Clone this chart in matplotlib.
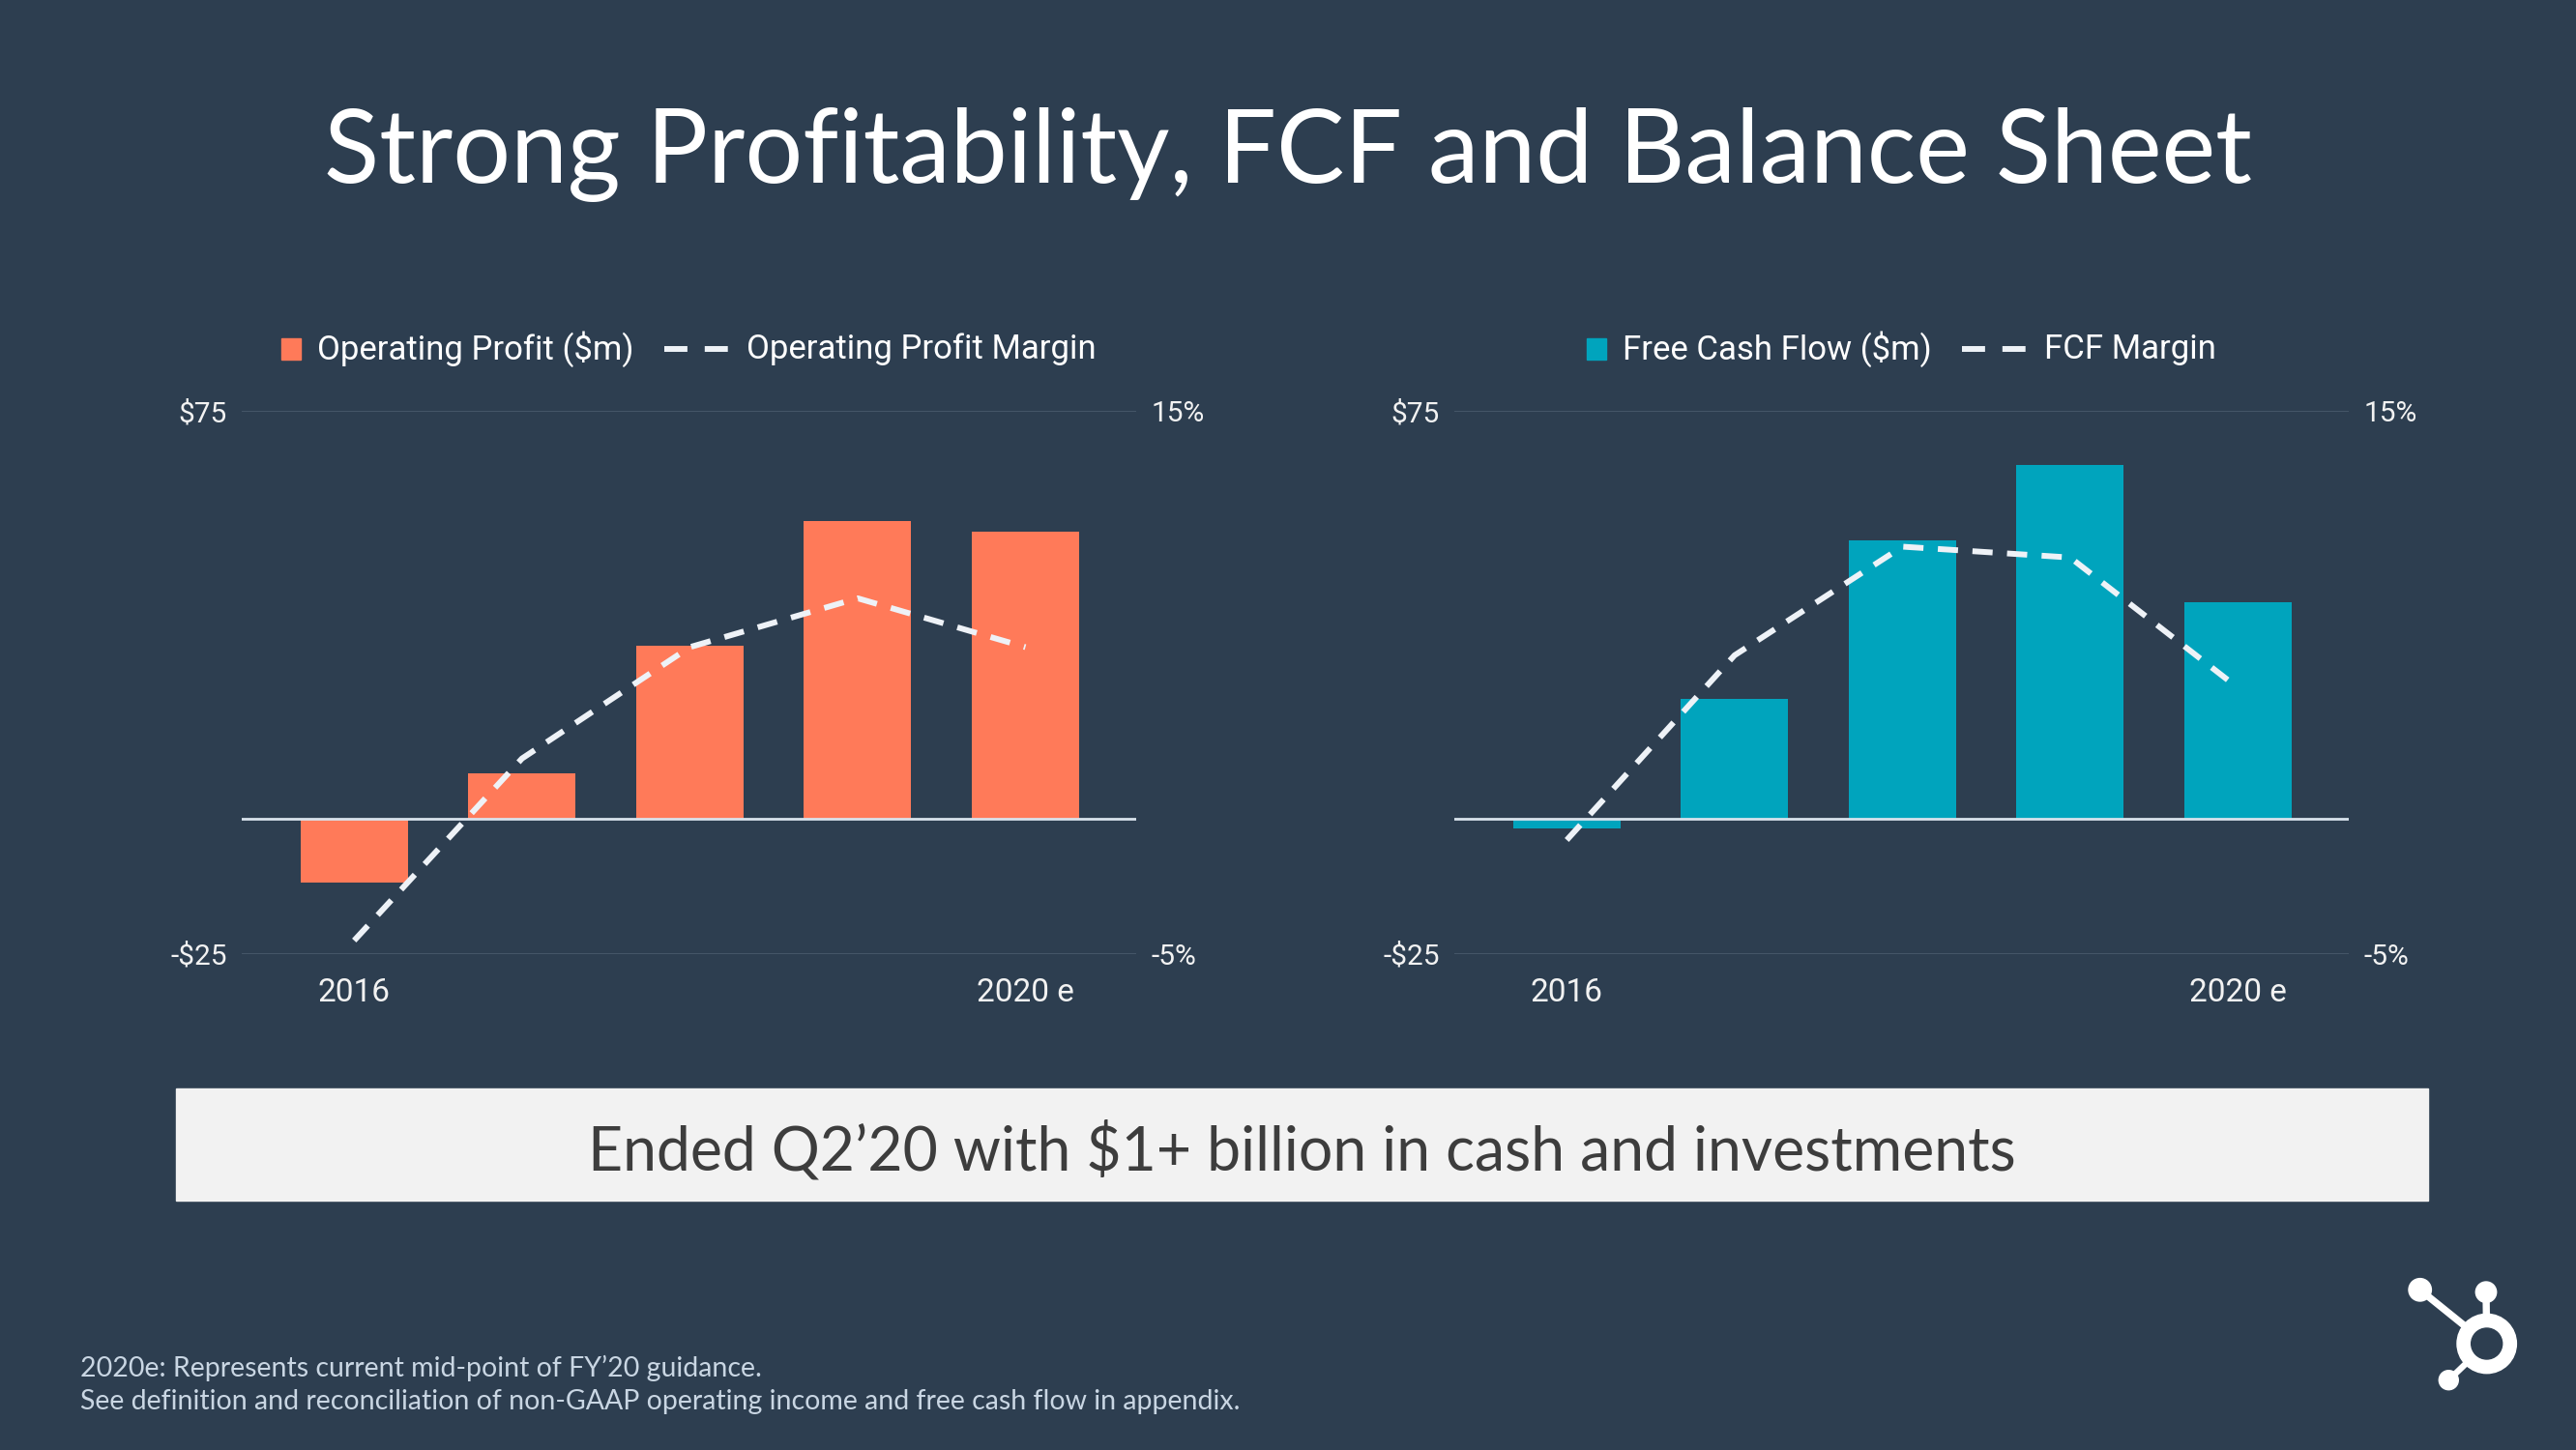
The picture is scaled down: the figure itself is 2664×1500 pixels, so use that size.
import matplotlib
matplotlib.use("Agg")
import matplotlib.pyplot as plt
from matplotlib.patches import Rectangle, Circle
from matplotlib.lines import Line2D
import numpy as np

plt.rcParams["font.family"] = ["Roboto", "DejaVu Sans"]

# data
years = ["2016", "2017", "2018", "2019", "2020 e"]
shown_years = ["2016", "", "", "", "2020 e"]

op_profit = [-11.8, 8.3, 31.8, 54.8, 52.8]
op_margin = [-4.5, 2.2, 6.3, 8.1, 6.3]

fcf = [-1.9, 22.0, 51.2, 65.0, 39.7]
fcf_margin = [-0.8, 6.0, 10.0, 9.6, 4.8]

bar_ticks = [-25, 75]
bar_tick_labels = [r"-\$25", r"\$75"]
margin_ticks = [-5, 15]
margin_tick_labels = ["-5%", "15%"]

BG = "#2d3e50"
ORANGE = "#ff7a59"
TEAL = "#00a4bd"
LINE = "#eef2f7"
W, H = 2664, 1500

fig = plt.figure(figsize=(W / 100, H / 100), dpi=100, facecolor=BG)


def chart(left, values, margins, color):
    ax = fig.add_axes([left / W, 1 - 987 / H, 925 / W, 562 / H])
    ax.set_facecolor("none")
    x = np.arange(len(years))
    ax.bar(x, values, width=0.64, color=color, zorder=3)
    ax.set_xlim(-0.67, len(years) - 0.34)
    ax.set_ylim(-25, 75)
    ax.set_yticks(bar_ticks, bar_tick_labels)
    ax.set_xticks(x, shown_years)
    ax.grid(axis="y", color="#4b5c6e", lw=1.2)
    ax.set_axisbelow(True)
    ax.axhline(0, color="#d8e2ec", lw=2.0, zorder=4)
    ax.tick_params(axis="y", length=0, pad=11, labelsize=21.5, labelcolor="#f2f2f2")
    ax.tick_params(axis="x", length=0, pad=17, labelsize=24, labelcolor="#f2f2f2")
    for s in ax.spines.values():
        s.set_visible(False)

    ax2 = ax.twinx()
    ax2.set_ylim(-5, 15)
    ax2.plot(x, margins, color=LINE, lw=4.3, dashes=(3.5, 2.5), zorder=5)
    ax2.set_yticks(margin_ticks, margin_tick_labels)
    ax2.tick_params(axis="y", length=0, pad=11, labelsize=21.5, labelcolor="#f2f2f2")
    for s in ax2.spines.values():
        s.set_visible(False)
    return ax


def legend(ax, color, bar_label, line_label):
    r = fig.canvas.get_renderer()
    yc = 361
    t1 = fig.text(0, 1 - yc / H, bar_label, fontsize=25, color="white", va="center")
    t2 = fig.text(0, 1 - yc / H, line_label, fontsize=25, color="white", va="center")
    w1 = t1.get_window_extent(r).width
    w2 = t2.get_window_extent(r).width
    total = 20 + 17 + w1 + 31 + 66 + 19 + w2
    bb = ax.get_window_extent(r)
    x0 = (bb.x0 + bb.x1) / 2 - total / 2
    fig.patches.append(Rectangle((x0 / W, 1 - (yc + 11) / H), 20 / W, 22 / H,
                                 transform=fig.transFigure, color=color))
    t1.set_x((x0 + 37) / W)
    xd = x0 + 37 + w1 + 31
    fig.lines.append(Line2D([xd / W, (xd + 66) / W], [1 - yc / H, 1 - yc / H],
                            transform=fig.transFigure, color=LINE, lw=4.3,
                            dashes=(4.0, 3.0), dash_capstyle="butt"))
    t2.set_x((xd + 66 + 19) / W)


ax_left = chart(250, op_profit, op_margin, ORANGE)
ax_right = chart(1504, fcf, fcf_margin, TEAL)
legend(ax_left, ORANGE, r"Operating Profit (\$m)", "Operating Profit Margin")
legend(ax_right, TEAL, r"Free Cash Flow (\$m)", "FCF Margin")

fig.text(0.5, 1 - 189 / H, "Strong Profitability, FCF and Balance Sheet",
         family=["Lato", "DejaVu Sans"], fontsize=76, color="white",
         ha="center", va="baseline")

# highlight box
fig.patches.append(Rectangle((182 / W, 1 - 1242 / H), 2329 / W, 116 / H,
                             transform=fig.transFigure, color="#f2f2f2"))
fig.text(1346 / W, 1 - 1211 / H, r"Ended Q2’20 with \$1+ billion in cash and investments",
         family=["Lato", "DejaVu Sans"], fontsize=45, color="#3d3d3d",
         ha="center", va="baseline")

# footnote
fig.text(83 / W, 1 - 1424 / H, "2020e: Represents current mid-point of FY’20 guidance.",
         family=["Lato", "DejaVu Sans"], fontsize=20.5, color="#c9d6e3", va="baseline")
fig.text(83 / W, 1 - 1458 / H,
         "See definition and reconciliation of non-GAAP operating income and free cash flow in appendix.",
         family=["Lato", "DejaVu Sans"], fontsize=20.5, color="#c9d6e3", va="baseline")

# sprocket logo
lg = fig.add_axes([2470 / W, 1 - 1460 / H, 160 / W, 160 / H])
lg.set_xlim(2470, 2630)
lg.set_ylim(1460, 1300)
lg.axis("off")
hub = (2571.7, 1390)
for (px, py), lw in [((2502.7, 1334.3), 5.3), ((2571, 1336.7), 5.3), ((2532.3, 1427.7), 4.6)]:
    lg.plot([px, hub[0]], [py, hub[1]], color="white", lw=lw, solid_capstyle="butt", zorder=1)
lg.add_patch(Circle(hub, 30.7, color="white", zorder=2))
lg.add_patch(Circle(hub, 16, color=BG, zorder=3))
lg.add_patch(Circle((2502.7, 1334.3), 11.7, color="white", zorder=2))
lg.add_patch(Circle((2571, 1336.7), 10.7, color="white", zorder=2))
lg.add_patch(Circle((2532.3, 1427.7), 10, color="white", zorder=2))

fig.savefig("out.png", dpi=100, facecolor=BG)
